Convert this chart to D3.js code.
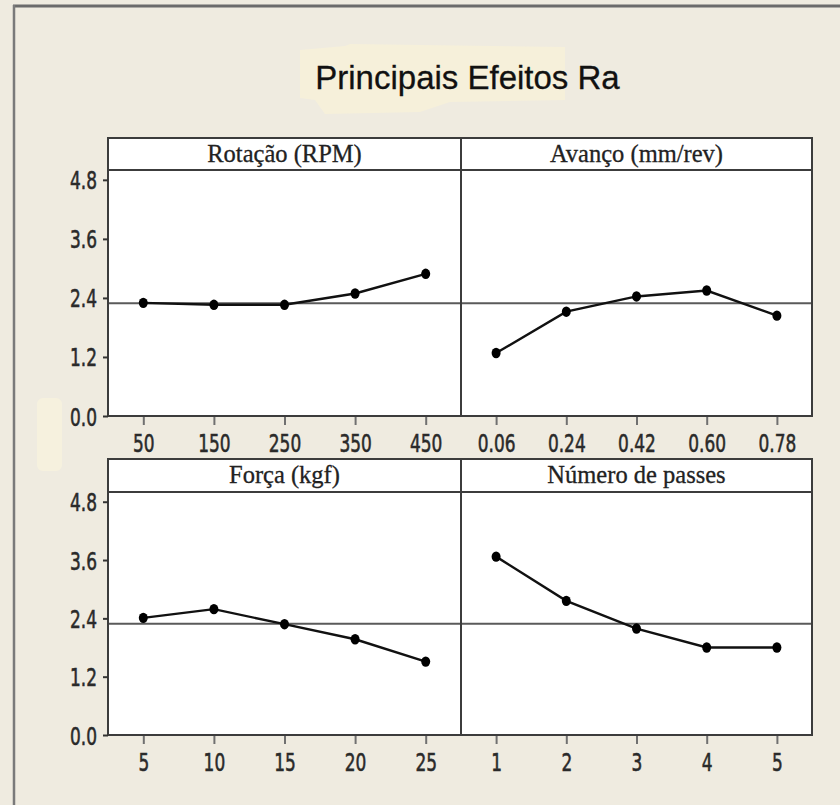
<!DOCTYPE html>
<html>
<head>
<meta charset="utf-8">
<script src="https://cdn.jsdelivr.net/npm/d3@7"></script>
<style>
  html, body { margin: 0; padding: 0; background: #EFEBE0; }
  svg { display: block; }
</style>
</head>
<body>
<svg id="chart" width="840" height="805"></svg>
<script>
// Main effects of each machining factor on surface roughness Ra
const chartTitle = "Principais Efeitos Ra";
const factorNames = ["Rotação (RPM)", "Avanço (mm/rev)", "Força (kgf)", "Número de passes"];

const rotacaoLevels = ["50", "150", "250", "350", "450"];
const rotacaoRa     = [2.30, 2.26, 2.26, 2.49, 2.89];

const avancoLevels  = ["0.06", "0.24", "0.42", "0.60", "0.78"];
const avancoRa      = [1.28, 2.12, 2.43, 2.55, 2.04];

const forcaLevels   = ["5", "10", "15", "20", "25"];
const forcaRa       = [2.41, 2.59, 2.28, 1.97, 1.51];

const passesLevels  = ["1", "2", "3", "4", "5"];
const passesRa      = [3.67, 2.76, 2.19, 1.80, 1.80];

const yTickValues = [0.0, 1.2, 2.4, 3.6, 4.8];
const yDomainMax = 5.0;
const grandMeanRa = 2.29;

const panels = [
  { name: factorNames[0], levels: rotacaoLevels, values: rotacaoRa, col: 0, row: 0 },
  { name: factorNames[1], levels: avancoLevels,  values: avancoRa,  col: 1, row: 0 },
  { name: factorNames[2], levels: forcaLevels,   values: forcaRa,   col: 0, row: 1 },
  { name: factorNames[3], levels: passesLevels,  values: passesRa,  col: 1, row: 1 }
];

// layout
const colEdges = [108, 461, 812];
const rows = [
  { top: 138, stripBottom: 170, bottom: 416 },
  { top: 459, stripBottom: 492, bottom: 735 }
];
const squeeze = 0.68;          // narrow look of the tick labels
const tickFont = 25;
const frameColor = "#3c3c3c";

const svg = d3.select("#chart");

// window frame (top and left edges)
svg.append("rect").attr("x", 0).attr("y", 0).attr("width", 840).attr("height", 805).attr("fill", "#EFEBE0");
svg.append("line").attr("x1", 13).attr("x2", 840).attr("y1", 6).attr("y2", 6)
  .attr("stroke", "#6b6b6b").attr("stroke-width", 3);
svg.append("line").attr("x1", 14).attr("x2", 14).attr("y1", 5).attr("y2", 805)
  .attr("stroke", "#7a7a7a").attr("stroke-width", 2.5);

// pale highlight patches on the background
svg.append("path")
  .attr("d", "M300,50 L345,46 L350,44 L565,47 L565,100 L450,102 L420,112 L325,114 L315,100 L300,98 Z")
  .attr("fill", "#F6F0DA");
svg.append("rect").attr("x", 37).attr("y", 398).attr("width", 25).attr("height", 73).attr("rx", 6)
  .attr("fill", "#F6F1DE");

// title
svg.append("text")
  .attr("x", 467.5).attr("y", 89)
  .attr("text-anchor", "middle")
  .attr("font-family", "Liberation Sans, Arial, sans-serif")
  .attr("font-size", 33)
  .attr("fill", "#111")
  .attr("stroke", "#111").attr("stroke-width", 0.3)
  .text(chartTitle);

function styleTickText(sel) {
  sel.attr("transform", `scale(${squeeze},1)`)
    .attr("font-family", "DejaVu Sans, sans-serif")
    .attr("font-size", tickFont)
    .attr("fill", "#2a2a2a")
    .attr("stroke", "#2a2a2a").attr("stroke-width", 0.6);
}

panels.forEach(p => {
  const r = rows[p.row];
  const x0 = colEdges[p.col], x1 = colEdges[p.col + 1];

  const x = d3.scalePoint().domain(p.levels).range([x0, x1]).padding(0.5);
  const y = d3.scaleLinear().domain([0, yDomainMax]).range([r.bottom, r.stripBottom]);

  const g = svg.append("g");

  // plot area
  g.append("rect")
    .attr("x", x0).attr("y", r.stripBottom)
    .attr("width", x1 - x0).attr("height", r.bottom - r.stripBottom)
    .attr("fill", "#fff");

  // strip header
  g.append("rect")
    .attr("x", x0).attr("y", r.top)
    .attr("width", x1 - x0).attr("height", r.stripBottom - r.top)
    .attr("fill", "#fff");
  g.append("text")
    .attr("x", (x0 + x1) / 2).attr("y", r.top + 24)
    .attr("text-anchor", "middle")
    .attr("font-family", "Liberation Serif, Times New Roman, serif")
    .attr("font-size", 24.5)
    .attr("fill", "#222")
    .attr("stroke", "#222").attr("stroke-width", 0.3)
    .text(p.name);

  // reference line at the overall mean
  g.append("line")
    .attr("x1", x0).attr("x2", x1)
    .attr("y1", y(grandMeanRa)).attr("y2", y(grandMeanRa))
    .attr("stroke", "#5a5a5a").attr("stroke-width", 2);

  // effect line and markers
  const pts = p.levels.map((lv, i) => [x(lv), y(p.values[i])]);
  g.append("path")
    .attr("d", d3.line()(pts))
    .attr("fill", "none")
    .attr("stroke", "#111")
    .attr("stroke-width", 2.4);
  g.selectAll("ellipse.pt").data(pts).join("ellipse")
    .attr("class", "pt")
    .attr("cx", d => d[0]).attr("cy", d => d[1])
    .attr("rx", 4.5).attr("ry", 5.2)
    .attr("fill", "#000");

  // borders
  g.append("rect")
    .attr("x", x0).attr("y", r.top)
    .attr("width", x1 - x0).attr("height", r.bottom - r.top)
    .attr("fill", "none").attr("stroke", frameColor).attr("stroke-width", 2);
  g.append("line")
    .attr("x1", x0).attr("x2", x1)
    .attr("y1", r.stripBottom).attr("y2", r.stripBottom)
    .attr("stroke", frameColor).attr("stroke-width", 2);

  // x axis
  const xa = svg.append("g")
    .attr("transform", `translate(0,${r.bottom})`)
    .call(d3.axisBottom(x).tickSize(9).tickPadding(0));
  xa.select(".domain").remove();
  xa.selectAll(".tick line").attr("stroke", "#707070").attr("stroke-width", 2).attr("y1", 1);
  xa.selectAll(".tick text").attr("y", 36).attr("dy", null).call(styleTickText);

  // y axis on the left column
  if (p.col === 0) {
    const ya = svg.append("g")
      .attr("transform", `translate(${x0},0)`)
      .call(d3.axisLeft(y).tickValues(yTickValues).tickFormat(d3.format(".1f")).tickSize(5));
    ya.select(".domain").remove();
    ya.selectAll(".tick line").attr("stroke", "#333").attr("stroke-width", 2);
    ya.selectAll(".tick text")
      .attr("x", -11 / squeeze).attr("dy", "0.36em")
      .attr("text-anchor", "end")
      .call(styleTickText);
  }
});
</script>
</body>
</html>
